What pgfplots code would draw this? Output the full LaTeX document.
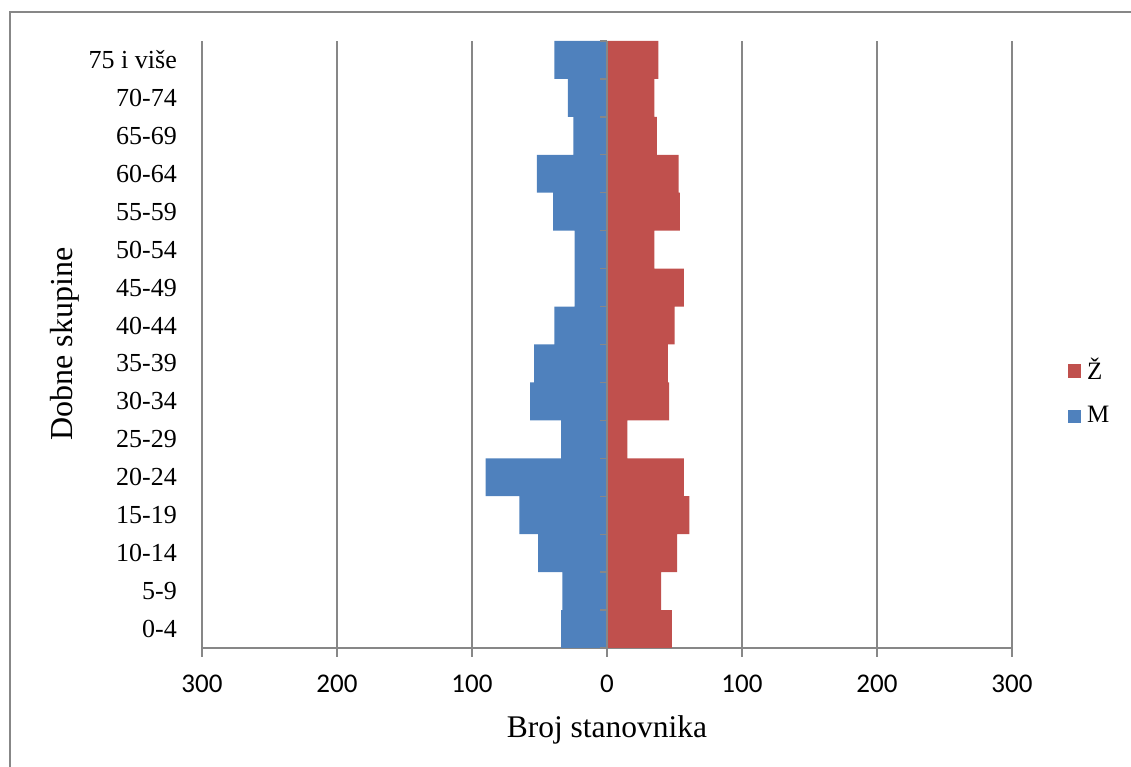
\documentclass[border=0pt]{standalone}
\usepackage{fontspec}
\setmainfont{Liberation Serif}
\newfontfamily\carlito{Carlito}
\usepackage{pgfplots}
\pgfplotsset{compat=1.18}
\definecolor{mblue}{HTML}{4F81BD}
\definecolor{zred}{HTML}{C0504D}
\definecolor{gridgray}{HTML}{878787}
\begin{document}
\begin{tikzpicture}[x=1pt,y=1pt]
\useasboundingbox (0,0) rectangle (1131,767);
\draw[gridgray, line width=1.3pt] (10,0) -- (10,755) -- (1131,755);
\coordinate (origin) at (202,119);
\begin{axis}[
	at={(origin)}, anchor=south west,
	scale only axis, width=810pt, height=607pt,
	xmin=-300, xmax=300, ymin=-0.5, ymax=15.5,
	axis x line*=bottom, axis y line*=left,
	axis line style={gridgray, line width=1.3pt},
	xtick={-300,-200,...,300},
	xticklabels={300,200,100,0,100,200,300},
	xmajorgrids=true,
	grid style={gridgray, line width=1.3pt},
	x tick style={gridgray, line width=1.3pt},
	tick align=outside, major tick length=9pt,
	ytick={0,...,15},
	yticklabels={0-4,5-9,10-14,15-19,20-24,25-29,30-34,35-39,40-44,45-49,50-54,55-59,60-64,65-69,70-74,75 i više},
	y tick style={draw=none},
	yticklabel style={anchor=east, inner sep=0pt, xshift=-16pt, font=\fontsize{26}{26}\selectfont},
	xticklabel style={anchor=north, inner sep=0pt, yshift=-18pt, font=\carlito\fontsize{27}{27}\selectfont},
	xlabel={Broj stanovnika},
	xlabel style={at={(axis cs:0,-2.66)}, anchor=center, font=\fontsize{31.5}{31.5}\selectfont},
	ylabel={Dobne skupine},
	ylabel style={at={(axis cs:-401.5,7.51)}, anchor=center, font=\fontsize{32}{32}\selectfont},
	clip=false,
	reverse legend,
	legend style={at={(axis cs:341.5,6.28)}, anchor=west, draw=none, fill=none,
		font=\fontsize{25}{25}\selectfont, row sep=25pt, inner sep=0pt,
		nodes={inner sep=0pt},
		/tikz/every odd column/.append style={column sep=6pt}},
	legend cell align=left,
	legend image code/.code={\fill[#1] (0pt,-8.5pt) rectangle (13pt,5pt);},
]
\addplot[xbar, bar width=1, bar shift=0pt, fill=mblue, draw=none]
coordinates {
	(-34,0) (-33,1) (-51,2) (-65,3) (-90,4) (-34,5) (-57,6) (-54,7)
	(-39,8) (-24,9) (-24,10) (-40,11) (-52,12) (-25,13) (-29,14) (-39,15)
};
\addlegendentry{M}
\addplot[xbar, bar width=1, bar shift=0pt, fill=zred, draw=none]
coordinates {
	(48,0) (40,1) (52,2) (61,3) (57,4) (15,5) (46,6) (45,7)
	(50,8) (57,9) (35,10) (54,11) (53,12) (37,13) (35,14) (38,15)
};
\addlegendentry{Ž}
\draw[gridgray, line width=1.3pt] (axis cs:0,-0.5) -- (axis cs:0,15.5);
\pgfplotsinvokeforeach{-0.5,0.5,...,15.5}{
	\draw[gridgray, line width=1.3pt] (axis cs:0,#1) -- ++(-7pt,0pt);
}
\end{axis}
\end{tikzpicture}
\end{document}
